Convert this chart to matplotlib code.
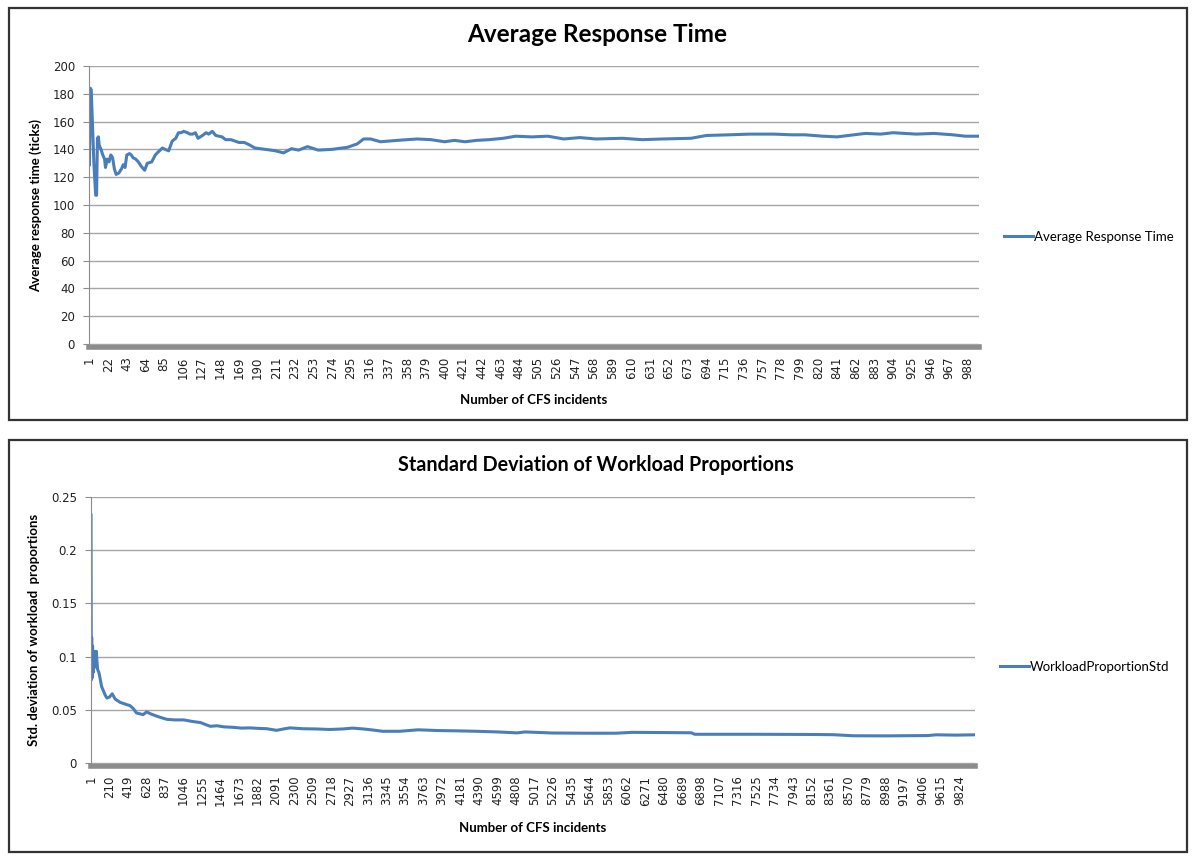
import matplotlib.pyplot as plt
from matplotlib.patches import Rectangle

# --- data ---
resp_incident = [1, 2, 3, 4, 6, 8, 9, 10, 11, 12, 14, 16, 18, 19, 21, 23, 25, 27, 29, 31,
                 34, 37, 39, 41, 43, 46, 48, 50, 53, 56, 59, 63, 66, 71, 75, 78, 83, 86, 90, 94,
                 98, 101, 104, 107, 111, 114, 117, 120, 123, 128, 132, 135, 139, 143, 150, 154,
                 160, 169, 175, 180, 187, 199, 210, 219, 228, 236, 246, 258, 273, 291, 302, 309,
                 317, 328, 347, 369, 385, 400, 411, 423, 436, 450, 466, 480, 498, 516, 534, 552,
                 570, 600, 622, 645, 677, 694, 720, 743, 770, 790, 805, 825, 841, 860, 873, 890,
                 904, 930, 950, 971, 985, 1000]
resp_time = [129, 184, 183, 165, 130, 107, 107, 148, 149, 143, 140, 136, 133, 127, 133, 131,
             136, 134, 126, 122, 123, 126, 129, 127, 136, 137, 136, 134, 133, 131, 128, 125,
             130, 131, 136, 138, 141, 140, 139, 146, 148, 152, 152, 153, 152, 151, 151, 152,
             148, 150, 152, 151, 153, 150, 149, 147, 147, 145, 145, 143.5, 141, 140, 139,
             137.5, 140.5, 139.5, 142, 139.5, 140, 141.5, 144, 147.5, 147.5, 145.5, 146.5,
             147.5, 147, 145.5, 146.5, 145.5, 146.5, 147, 148, 149.5, 149, 149.5, 147.5, 148.5,
             147.5, 148, 147, 147.5, 148, 150, 150.5, 151, 151, 150.5, 150.5, 149.5, 149, 150.5,
             151.5, 151, 152, 151, 151.5, 150.5, 149.5, 149.5]
resp_ticks = list(range(1, 1001, 21))

std_incident = [1, 3, 4, 8, 12, 18, 25, 35, 45, 60, 75, 90, 100, 120, 140, 160, 180, 210, 240,
                275, 330, 400, 440, 480, 515, 590, 630, 680, 745, 800, 860, 950, 1050, 1150,
                1240, 1300, 1350, 1425, 1500, 1615, 1700, 1800, 1900, 1990, 2100, 2180, 2250,
                2400, 2550, 2700, 2850, 2960, 3080, 3190, 3300, 3490, 3700, 3926, 4150, 4370,
                4600, 4820, 4910, 5220, 5600, 5940, 6120, 6500, 6790, 6830, 7500, 8170, 8400,
                8620, 9000, 9470, 9560, 9780, 10000]
std_value = [0.233, 0.12, 0.078, 0.118, 0.08, 0.11, 0.085, 0.105, 0.09, 0.105, 0.088, 0.085,
             0.081, 0.072, 0.068, 0.064, 0.061, 0.062, 0.065, 0.06, 0.057, 0.055, 0.054, 0.051,
             0.047, 0.0455, 0.048, 0.046, 0.044, 0.0425, 0.041, 0.0405, 0.0405, 0.039, 0.038,
             0.036, 0.0345, 0.035, 0.034, 0.0335, 0.0328, 0.033, 0.0325, 0.0322, 0.0307, 0.032,
             0.033, 0.0322, 0.032, 0.0315, 0.032, 0.0328, 0.032, 0.031, 0.0298, 0.0298, 0.0312,
             0.0305, 0.0302, 0.0298, 0.0292, 0.0283, 0.0292, 0.0282, 0.028, 0.028, 0.0288,
             0.0286, 0.0284, 0.027, 0.027, 0.0268, 0.0266, 0.0256, 0.0255, 0.0258, 0.0265,
             0.0262, 0.0265]
std_ticks = list(range(1, 10001, 209))

W, H = 1200, 866
LINE = '#4a7ebb'
GRID = '#a6a6a6'
AXIS = '#8c8c8c'
BOLD = 'Lato'


def px_box(x0, y0, x1, y1):
    # pixel box (top-left origin) -> figure fraction rect
    return [x0 / W, 1 - y1 / H, (x1 - x0) / W, (y1 - y0) / H]


def style_axes(ax, xs, ys, ticks, n, ymax, ystep, label):
    ax.plot(xs, ys, color=LINE, lw=2.2, label=label, solid_joinstyle='round')
    ax.set_xlim(0.5, n + 0.5)
    ax.set_ylim(0, ymax)
    ax.tick_params(axis='x', length=0, pad=7, labelrotation=90, labelsize=8.5, labelcolor='#222')
    ax.tick_params(axis='y', length=4, color=AXIS, pad=6, labelsize=8.5, labelcolor='#222')
    yt = [i * ystep for i in range(int(round(ymax / ystep)) + 1)]
    ax.set_yticks(yt)
    ax.set_yticklabels([f'{v:g}' for v in yt], family='DejaVu Sans')
    ax.set_xticks(ticks)
    ax.set_xticklabels([str(t) for t in ticks], family='Liberation Serif')
    ax.grid(axis='y', color=GRID, lw=1)
    ax.set_axisbelow(True)
    for s in ['top', 'right']:
        ax.spines[s].set_visible(False)
    ax.spines['left'].set_color(AXIS)
    ax.spines['bottom'].set_color(AXIS)
    ax.spines['bottom'].set_linewidth(4)
    ax.spines['bottom'].set_position(('outward', 2))


fig = plt.figure(figsize=(W / 100, H / 100), dpi=100)

# frames around each chart
for box in [px_box(9, 8, 1187, 420), px_box(9, 440, 1187, 852)]:
    fig.patches.append(Rectangle((box[0], box[1]), box[2], box[3], transform=fig.transFigure,
                                 fill=False, edgecolor='#333333', lw=1.6))

# top chart
ax1 = fig.add_axes(px_box(89, 66, 979, 344))
style_axes(ax1, resp_incident, resp_time, resp_ticks, 1000, 200, 20, 'Average Response Time')
ax1.set_ylabel('Average response time (ticks)', fontsize=9.5, family=BOLD, weight='bold', labelpad=8)
ax1.set_xlabel('Number of CFS incidents', fontsize=9.5, family=BOLD, weight='bold', labelpad=11)
fig.text(597 / W, 1 - 35 / H, 'Average Response Time', ha='center', va='center',
         fontsize=17.5, family=BOLD, weight='bold')
ax1.legend(loc='center left', bbox_to_anchor=(992 / W, 1 - 237 / H), bbox_transform=fig.transFigure,
           frameon=False, handlelength=2.2, handletextpad=0.05,
           prop={'family': BOLD, 'size': 9.5})

# bottom chart
ax2 = fig.add_axes(px_box(91, 497, 975, 763))
style_axes(ax2, std_incident, std_value, std_ticks, 10000, 0.25, 0.05, 'WorkloadProportionStd')
ax2.set_ylabel('Std. deviation of workload  proportions', fontsize=9.5, family=BOLD, weight='bold',
               labelpad=8)
ax2.set_xlabel('Number of CFS incidents', fontsize=9.5, family=BOLD, weight='bold', labelpad=12)
fig.text(596 / W, 1 - 465 / H, 'Standard Deviation of Workload Proportions', ha='center',
         va='center', fontsize=14.2, family=BOLD, weight='bold')
ax2.legend(loc='center left', bbox_to_anchor=(988 / W, 1 - 667 / H), bbox_transform=fig.transFigure,
           frameon=False, handlelength=2.2, handletextpad=0.05,
           prop={'family': BOLD, 'size': 9.5})

fig.savefig('out.png', dpi=100, facecolor='white')
